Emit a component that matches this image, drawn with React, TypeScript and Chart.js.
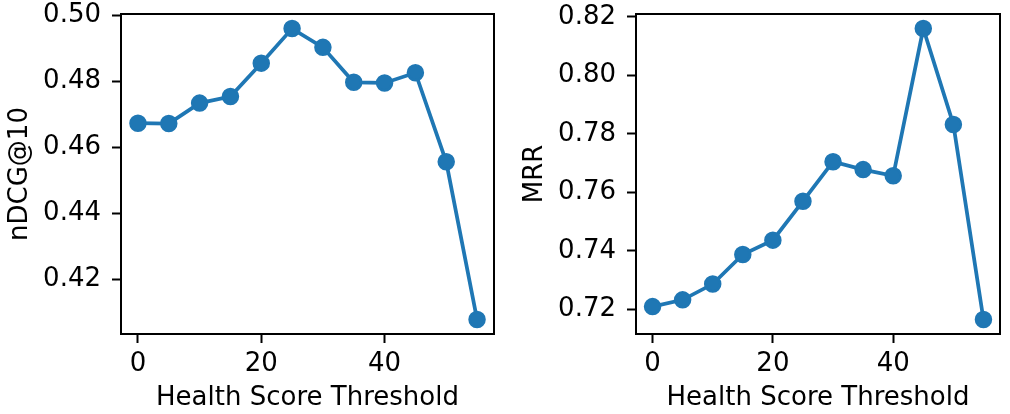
import React, { useEffect, useRef } from "react";
import { Chart, registerables } from "chart.js";

Chart.register(...registerables);

const thresholds = [0, 5, 10, 15, 20, 25, 30, 35, 40, 45, 50, 55];
const ndcgValues = [0.4673, 0.4672, 0.4734, 0.4754, 0.4855, 0.496, 0.4903, 0.4797, 0.4795, 0.4826, 0.4556, 0.4078];
const mrrValues = [0.721, 0.7233, 0.7287, 0.7388, 0.7437, 0.757, 0.7705, 0.7678, 0.7657, 0.816, 0.7832, 0.7166];
const xTicks = [0, 20, 40];
const ndcgTicks = [0.42, 0.44, 0.46, 0.48, 0.5];
const mrrTicks = [0.72, 0.74, 0.76, 0.78, 0.8, 0.82];
const xTitle = "Health Score Threshold";
const ndcgTitle = "nDCG@10";
const mrrTitle = "MRR";

const FONT = "'DejaVu Sans', sans-serif";
const FS = 26;
const BLUE = "#1f77b4";

function padRange(vals: number[]) {
  const lo = Math.min(...vals);
  const hi = Math.max(...vals);
  const m = (hi - lo) * 0.05;
  return [lo - m, hi + m];
}

const framePlugin = {
  id: "frame",
  afterDatasetsDraw(chart: any) {
    const { ctx, chartArea } = chart;
    ctx.save();
    ctx.strokeStyle = "#000";
    ctx.lineWidth = 2;
    ctx.strokeRect(chartArea.left, chartArea.top, chartArea.right - chartArea.left, chartArea.bottom - chartArea.top);
    ctx.restore();
  },
};

function makeConfig(values: number[], yTicks: number[], yTitle: string, rightPad: number): any {
  const [xmin, xmax] = padRange(thresholds);
  const [ymin, ymax] = padRange(values);
  return {
    type: "line",
    data: {
      datasets: [
        {
          data: thresholds.map((x, i) => ({ x, y: values[i] })),
          borderColor: BLUE,
          backgroundColor: BLUE,
          borderWidth: 3.75,
          pointRadius: 7.5,
          pointBorderWidth: 2.5,
          pointBackgroundColor: BLUE,
          pointBorderColor: BLUE,
          tension: 0,
          clip: false,
        },
      ],
    },
    options: {
      responsive: false,
      animation: false,
      devicePixelRatio: 1,
      layout: { padding: { top: 14, right: rightPad, left: 0, bottom: 0 } },
      plugins: { legend: { display: false }, tooltip: { enabled: false } },
      scales: {
        x: {
          type: "linear",
          min: xmin,
          max: xmax,
          afterFit: (s: any) => {
            s.height = 80;
            s.paddingLeft = 0;
            s.paddingRight = 0;
          },
          afterBuildTicks: (s: any) => {
            s.ticks = xTicks.map((v) => ({ value: v }));
          },
          border: { display: false },
          grid: { drawOnChartArea: false, drawTicks: true, tickLength: 9, tickColor: "#000", tickWidth: 2 },
          ticks: {
            color: "#000",
            font: { family: FONT, size: FS },
            padding: 6,
            maxRotation: 0,
            callback: (v: any) => String(v),
          },
          title: {
            display: true,
            text: xTitle,
            color: "#000",
            font: { family: FONT, size: FS },
            padding: { top: 0, bottom: 0 },
          },
        },
        y: {
          type: "linear",
          min: ymin,
          max: ymax,
          afterFit: (s: any) => {
            s.width = 121;
            s.paddingTop = 0;
            s.paddingBottom = 0;
          },
          afterBuildTicks: (s: any) => {
            s.ticks = yTicks.map((v) => ({ value: v }));
          },
          border: { display: false },
          grid: { drawOnChartArea: false, drawTicks: true, tickLength: 9, tickColor: "#000", tickWidth: 2 },
          ticks: {
            color: "#000",
            font: { family: FONT, size: FS },
            padding: 11,
            callback: (v: any) => Number(v).toFixed(2),
          },
          title: {
            display: true,
            text: yTitle,
            color: "#000",
            font: { family: FONT, size: FS },
            padding: { top: 5, bottom: 0 },
          },
        },
      },
    },
    plugins: [framePlugin],
  };
}

export default function App() {
  const ref1 = useRef<HTMLCanvasElement>(null);
  const ref2 = useRef<HTMLCanvasElement>(null);

  useEffect(() => {
    const c1 = new Chart(ref1.current!, makeConfig(ndcgValues, ndcgTicks, ndcgTitle, 11));
    const c2 = new Chart(ref2.current!, makeConfig(mrrValues, mrrTicks, mrrTitle, 1));
    return () => {
      c1.destroy();
      c2.destroy();
    };
  }, []);

  return (
    <div style={{ position: "absolute", left: 0, top: 0, width: 1010, height: 414, background: "#fff" }}>
      <canvas ref={ref1} width={505} height={414} style={{ position: "absolute", left: 0, top: 0, width: 505, height: 414 }} />
      <canvas ref={ref2} width={495} height={414} style={{ position: "absolute", left: 515, top: 0, width: 495, height: 414 }} />
    </div>
  );
}
